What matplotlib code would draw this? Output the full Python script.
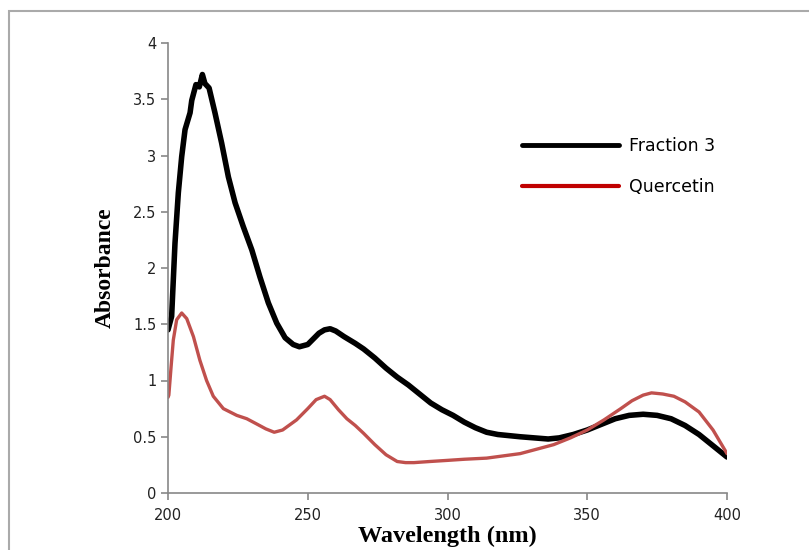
import matplotlib
matplotlib.use('Agg')
import matplotlib.pyplot as plt
from matplotlib.patches import Rectangle

# Fraction 3 spectrum
wl_frac = [200, 201.3, 202.5, 203.7, 204.9, 206.1, 207.9, 208.5, 210, 211.2, 212.3, 213.2, 214.7,
           216.8, 219.2, 221.6, 224, 226.9, 230, 232.9, 235.9, 238.9, 241.9, 244.8, 247, 250, 252,
           254, 256, 258, 260, 263, 267, 270, 274, 278, 282, 286, 290, 294, 298, 302, 306, 310,
           314, 318, 322, 326, 331, 336, 340, 345, 350, 355, 360, 365, 370, 375, 380, 385, 390,
           395, 400]
abs_frac = [1.45, 1.57, 2.22, 2.67, 2.99, 3.23, 3.38, 3.49, 3.63, 3.61, 3.72, 3.64, 3.60,
            3.38, 3.11, 2.81, 2.58, 2.37, 2.16, 1.92, 1.69, 1.51, 1.38, 1.32, 1.30, 1.32, 1.37,
            1.42, 1.45, 1.46, 1.44, 1.39, 1.33, 1.28, 1.20, 1.11, 1.03, 0.96, 0.88, 0.80, 0.74,
            0.69, 0.63, 0.58, 0.54, 0.52, 0.51, 0.50, 0.49, 0.48, 0.49, 0.52, 0.56, 0.61, 0.66,
            0.69, 0.70, 0.69, 0.66, 0.60, 0.52, 0.42, 0.32]

# Quercetin spectrum
wl_quer = [200, 200.3, 201.1, 201.9, 203.1, 204.9, 206.7, 209.1, 211.4, 213.8, 216.2, 219.8, 224.6,
           228.2, 232, 235, 238, 241, 246, 250, 253, 256, 258, 261, 264, 267, 270, 274, 278, 282,
           285, 288, 293.7, 300, 306, 314, 320, 326, 332, 338, 344, 350, 356, 362, 366, 370, 373,
           377, 381, 385, 390, 395, 400]
abs_quer = [0.85, 0.87, 1.12, 1.36, 1.54, 1.60, 1.55, 1.39, 1.18, 1.00, 0.86, 0.75, 0.69,
            0.66, 0.61, 0.57, 0.54, 0.56, 0.65, 0.75, 0.83, 0.86, 0.83, 0.74, 0.66, 0.60, 0.53,
            0.43, 0.34, 0.28, 0.27, 0.27, 0.28, 0.29, 0.30, 0.31, 0.33, 0.35, 0.39, 0.43, 0.49,
            0.56, 0.65, 0.75, 0.82, 0.87, 0.89, 0.88, 0.86, 0.81, 0.72, 0.56, 0.35]

fig = plt.figure(figsize=(8.09, 5.50), dpi=100)
ax = fig.add_axes([168/809, 1-493/550, (727-168)/809, (493-43)/550])

ax.plot(wl_frac, abs_frac, color='black', lw=4, label='Fraction 3',
        solid_joinstyle='round', solid_capstyle='round')
ax.plot(wl_quer, abs_quer, color='#C0504D', lw=2.4, label='Quercetin',
        solid_joinstyle='round', solid_capstyle='round')

ax.set_xlim(200, 400)
ax.set_ylim(0, 4)
ax.set_xticks([200, 250, 300, 350, 400])
ax.set_yticks([0, 0.5, 1, 1.5, 2, 2.5, 3, 3.5, 4])
ax.set_yticklabels(['0', '0.5', '1', '1.5', '2', '2.5', '3', '3.5', '4'])

for s in ['top', 'right']:
    ax.spines[s].set_visible(False)
for s in ['left', 'bottom']:
    ax.spines[s].set_color('#888888')
    ax.spines[s].set_linewidth(1.2)
ax.tick_params(direction='out', length=5, width=1.2, color='#888888',
               labelsize=10.5, labelcolor='#222222')
ax.tick_params(axis='x', pad=6)
for lab in ax.get_xticklabels() + ax.get_yticklabels():
    lab.set_family('DejaVu Sans')

ax.set_xlabel('Wavelength (nm)', family='Liberation Serif', fontweight='bold', fontsize=17.5, labelpad=2)
ax.set_ylabel('Absorbance', family='Liberation Serif', fontweight='bold', fontsize=17, labelpad=12)

leg = ax.legend(loc='upper left', bbox_to_anchor=(0.605, 0.825), frameon=False, handlelength=5.6,
                labelspacing=1.3, prop={'family': 'DejaVu Sans', 'size': 12.5}, handletextpad=0.55)
leg.get_lines()[0].set_linewidth(3.5)
leg.get_lines()[1].set_linewidth(3)
leg.get_lines()[1].set_color('#C00000')

fig.patches.append(Rectangle((9/809, -0.1), 1.0, 1.1 - 11/550, transform=fig.transFigure,
                             fill=False, edgecolor='#aaaaaa', lw=1.5))

fig.savefig('out.png', dpi=100)
